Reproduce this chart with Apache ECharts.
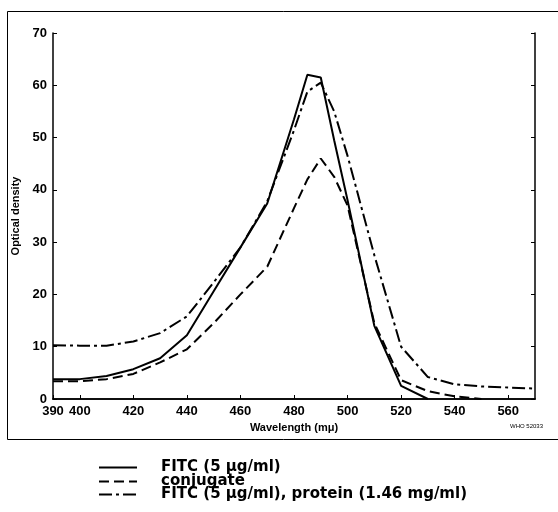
<!DOCTYPE html>
<html>
<head>
<meta charset="utf-8">
<script src="https://cdn.jsdelivr.net/npm/echarts@6/dist/echarts.min.js"></script>
<style>
  html, body { margin: 0; padding: 0; background: #fff; }
  #chart { width: 558px; height: 512px; }
</style>
</head>
<body>
<div id="chart"></div>
<script>
// wavelength (mμ) at which the curves were read
const wavelengths = [390, 400, 410, 420, 430, 440, 450, 460, 470, 480, 485, 490, 495, 500, 510, 520, 530, 540, 550, 560, 570]
const fitc = [3.8, 3.8, 4.4, 5.7, 7.8, 12.2, 20.6, 29, 37.4, 53.5, 62, 61.5, 49.5, 38, 14, 2.5, 0, null, null, null, null]
const conjugate = [3.4, 3.4, 3.8, 4.8, 7, 9.5, 14.5, 20, 25.3, 36.5, 42, 46, 42.5, 37, 14.5, 3.6, 1.5, 0.5, 0, null, null]
const fitcProtein = [10.3, 10.2, 10.2, 11, 12.6, 15.8, 22.3, 29, 37.8, 51.4, 58.8, 60.5, 55, 46.5, 27.5, 10, 4.2, 2.8, 2.4, 2.2, 2.0]
const xTicks = [390, 400, 420, 440, 460, 480, 500, 520, 540, 560]
const seriesNames = ['FITC (5 \u03bcg/ml)', 'conjugate', 'FITC (5 \u03bcg/ml), protein (1.46 mg/ml)']

const font = "'Liberation Sans Narrow', 'Liberation Sans', Arial, sans-serif"

function pairs(values) {
    const out = []
    wavelengths.forEach((w, i) => {
        if (values[i] !== null) out.push([w, values[i]])
    })
    return out
}

function lineSeries(name, values, dash) {
    return {
        name: name,
        type: 'line',
        data: pairs(values),
        symbol: 'none',
        silent: true,
        lineStyle: { color: '#000', width: 2, type: dash },
        itemStyle: { color: '#000' }
    }
}

// one legend per row so the rows can sit tight like the printed key
function legendRow(name, top) {
    return {
        data: [name],
        left: 98,
        top: top,
        padding: 0,
        itemWidth: 38,
        itemHeight: 13,
        itemStyle: { opacity: 0 },
        lineStyle: { width: 2 },
        selectedMode: false,
        textStyle: {
            color: '#000',
            fontFamily: "'DejaVu Sans', 'Liberation Sans', sans-serif",
            fontWeight: 'bold',
            fontSize: 15,
            lineHeight: 14,
            padding: [0, 0, 0, 19]
        }
    }
}

const chart = echarts.init(document.getElementById('chart'))
const option = {
    backgroundColor: '#fff',
    animation: false,
    grid: { left: 53, top: 33, width: 482, height: 366 },
    graphic: [
        {
            type: 'rect',
            shape: { x: 7.5, y: 11.5, width: 560, height: 428 },
            style: { fill: 'none', stroke: '#000', lineWidth: 1 },
            silent: true
        },
        {
            type: 'text',
            left: 510,
            top: 423,
            style: { text: 'WHO 52033', fill: '#000', font: '6px ' + font }
        }
    ],
    legend: [
        legendRow(seriesNames[0], 460),
        legendRow(seriesNames[1], 474),
        legendRow(seriesNames[2], 487)
    ],
    xAxis: [
        {
            type: 'value',
            min: 390,
            max: 570,
            name: 'Wavelength (m\u03bc)',
            nameLocation: 'middle',
            nameGap: 22,
            nameTextStyle: { color: '#000', fontFamily: font, fontWeight: 'bold', fontSize: 11 },
            axisLine: { lineStyle: { color: '#000', width: 1.5 } },
            axisTick: { inside: true, length: 4, lineStyle: { color: '#000' }, customValues: xTicks },
            axisLabel: { color: '#000', fontFamily: font, fontWeight: 'bold', fontSize: 13, margin: 6, customValues: xTicks },
            splitLine: { show: false }
        },
        {
            type: 'value',
            position: 'top',
            min: 390,
            max: 570,
            axisLine: { lineStyle: { color: '#000', width: 1.5 } },
            axisTick: { show: false },
            axisLabel: { show: false },
            splitLine: { show: false }
        }
    ],
    yAxis: [
        {
            type: 'value',
            min: 0,
            max: 70,
            interval: 10,
            name: 'Optical density',
            nameLocation: 'middle',
            nameGap: 30,
            nameTextStyle: { color: '#000', fontFamily: font, fontWeight: 'bold', fontSize: 11 },
            axisLine: { show: true, lineStyle: { color: '#000', width: 1.5 } },
            axisTick: { show: true, inside: true, length: 4, lineStyle: { color: '#000' } },
            axisLabel: { color: '#000', fontFamily: font, fontWeight: 'bold', fontSize: 13, margin: 6 },
            splitLine: { show: false }
        },
        {
            type: 'value',
            position: 'right',
            min: 0,
            max: 70,
            interval: 10,
            axisLine: { show: true, lineStyle: { color: '#000', width: 1.5 } },
            axisTick: { show: true, inside: true, length: 4, lineStyle: { color: '#000' } },
            axisLabel: { show: false },
            splitLine: { show: false }
        }
    ],
    series: [
        lineSeries(seriesNames[0], fitc, 'solid'),
        lineSeries(seriesNames[1], conjugate, [10, 5]),
        lineSeries(seriesNames[2], fitcProtein, [13, 4, 3, 4])
    ]
}
chart.setOption(option)
</script>
</body>
</html>
